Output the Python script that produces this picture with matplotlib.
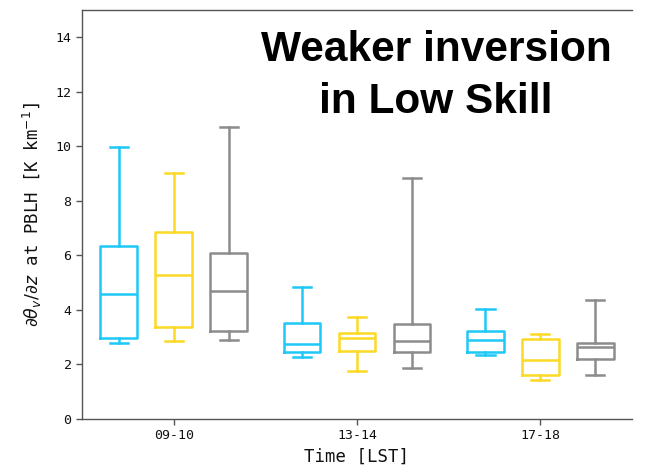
import matplotlib
matplotlib.use("Agg")
import matplotlib.pyplot as plt

# Time windows (local solar time)
periods = ["09-10", "13-14", "17-18"]

# Box statistics per skill group, one entry per time window:
# lower whisker, Q1, median, Q3, upper whisker  [K km^-1]
high_whislo = [2.80, 2.27, 2.33]
high_q1     = [2.96, 2.44, 2.44]
high_med    = [4.57, 2.75, 2.91]
high_q3     = [6.34, 3.53, 3.22]
high_whishi = [9.97, 4.84, 4.02]

mid_whislo = [2.87, 1.75, 1.44]
mid_q1     = [3.38, 2.50, 1.61]
mid_med    = [5.28, 2.98, 2.16]
mid_q3     = [6.86, 3.14, 2.94]
mid_whishi = [9.01, 3.74, 3.10]

low_whislo = [2.89, 1.88, 1.61]
low_q1     = [3.22, 2.44, 2.21]
low_med    = [4.69, 2.86, 2.64]
low_q3     = [6.07, 3.49, 2.78]
low_whishi = [10.71, 8.83, 4.36]

groups = [
    ("#1ec8f7", high_whislo, high_q1, high_med, high_q3, high_whishi),
    ("#fbd924", mid_whislo, mid_q1, mid_med, mid_q3, mid_whishi),
    ("#8c8c8c", low_whislo, low_q1, low_med, low_q3, low_whishi),
]
offsets = [-0.3, 0.0, 0.3]

fig = plt.figure(figsize=(6.46, 4.66), dpi=100)
ax = fig.add_axes([82 / 646, 1 - 419 / 466, 550 / 646, 409 / 466])

for (color, wlo, q1, med, q3, whi), off in zip(groups, offsets):
    stats = []
    for i in range(len(periods)):
        stats.append(dict(whislo=wlo[i], q1=q1[i], med=med[i], q3=q3[i],
                          whishi=whi[i], fliers=[]))
    pos = [i + off for i in range(len(periods))]
    style = dict(color=color, linewidth=1.8)
    ax.bxp(stats, positions=pos, widths=0.2, showfliers=False,
           boxprops=style, whiskerprops=style, capprops=style,
           medianprops=style, manage_ticks=False)

ax.set_xlim(-0.5, 2.5)
ax.set_ylim(0, 15)
ax.set_xticks(range(len(periods)))
ax.set_xticklabels(periods)
ax.set_yticks(range(0, 15, 2))

mono = "DejaVu Sans Mono"
for lab in ax.get_xticklabels() + ax.get_yticklabels():
    lab.set_fontfamily(mono)
    lab.set_fontsize(9.5)
    lab.set_color("#111111")

ax.set_xlabel("Time [LST]", fontfamily=mono, fontsize=12.5, labelpad=4,
              color="#111111")
ax.set_ylabel(r"$\partial\theta_v/\partial z$ at PBLH [K km$^{-1}$]",
              fontfamily=mono, fontsize=12.5, labelpad=8, color="#111111")

ax.spines["right"].set_visible(False)
for s in ("left", "bottom", "top"):
    ax.spines[s].set_color("#555555")
    ax.spines[s].set_linewidth(1.0)
ax.tick_params(colors="#555555", labelcolor="#111111", length=4, width=1.0)

fig.text(436 / 646, 1 - 76 / 466, "Weaker inversion\nin Low Skill",
         ha="center", va="center", fontfamily="Liberation Sans",
         fontweight="bold", fontsize=30.5, linespacing=1.38)

fig.savefig("out.png", dpi=100)
